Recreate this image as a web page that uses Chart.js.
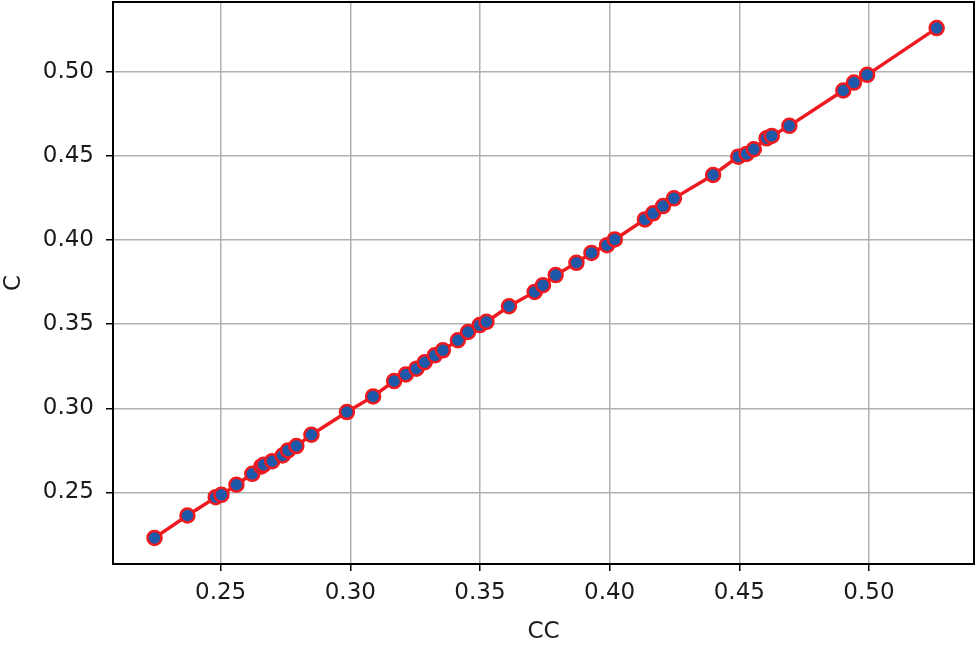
<!DOCTYPE html>
<html>
<head>
<meta charset="utf-8">
<script src="https://cdn.jsdelivr.net/npm/chart.js@4/dist/chart.umd.min.js"></script>
<style>
    html, body { margin: 0; padding: 0; background: #fff; }
    #wrap { width: 980px; height: 648px; }
</style>
</head>
<body>
<div id="wrap"><canvas id="ccChart" width="980" height="648"></canvas></div>
<script>
// values
const ccValues = [0.2245, 0.2372, 0.2481, 0.2503, 0.2561, 0.2622, 0.2657, 0.2666, 0.2699, 0.2739,
    0.2760, 0.2792, 0.2850, 0.2987, 0.3088, 0.3169, 0.3214, 0.3255, 0.3287, 0.3326,
    0.3357, 0.3415, 0.3454, 0.3499, 0.3525, 0.3612, 0.3711, 0.3743, 0.3792, 0.3872,
    0.3930, 0.3990, 0.4020, 0.4136, 0.4168, 0.4206, 0.4248, 0.4399, 0.4496, 0.4528,
    0.4556, 0.4605, 0.4625, 0.4693, 0.4901, 0.4942, 0.4993, 0.5261];
const cValues = [0.2230, 0.2363, 0.2472, 0.2486, 0.2546, 0.2611, 0.2655, 0.2665, 0.2686, 0.2720,
    0.2750, 0.2776, 0.2843, 0.2978, 0.3071, 0.3162, 0.3201, 0.3236, 0.3274, 0.3315,
    0.3345, 0.3405, 0.3454, 0.3495, 0.3514, 0.3607, 0.3692, 0.3732, 0.3792, 0.3865,
    0.3924, 0.3970, 0.4004, 0.4123, 0.4159, 0.4202, 0.4248, 0.4387, 0.4496, 0.4512,
    0.4540, 0.4605, 0.4619, 0.4679, 0.4889, 0.4936, 0.4982, 0.5260];
const xTicks = [0.25, 0.30, 0.35, 0.40, 0.45, 0.50];
const yTicks = [0.25, 0.30, 0.35, 0.40, 0.45, 0.50];

const points = ccValues.map((x, i) => ({ x: x, y: cValues[i] }));

// black box round the plot area
const frame = {
    id: 'frame',
    beforeDatasetsDraw(chart) {
        const a = chart.chartArea;
        const ctx = chart.ctx;
        ctx.save();
        ctx.strokeStyle = '#000';
        ctx.lineWidth = 2;
        ctx.strokeRect(a.left, a.top, a.right - a.left, a.bottom - a.top);
        ctx.restore();
    }
};

const tickFont = { family: 'DejaVu Sans', size: 23 };

new Chart(document.getElementById('ccChart').getContext('2d'), {
    type: 'scatter',
    data: {
        datasets: [{
            data: points,
            showLine: true,
            borderColor: '#ef1a1f',
            borderWidth: 3.5,
            pointBackgroundColor: '#1e58a8',
            pointBorderColor: '#ef1a1f',
            pointBorderWidth: 2.5,
            pointRadius: 7,
            tension: 0,
            clip: false
        }]
    },
    options: {
        responsive: false,
        animation: false,
        layout: { autoPadding: false, padding: { top: 2, right: 6, left: 0, bottom: 0 } },
        plugins: { legend: { display: false }, tooltip: { enabled: false } },
        scales: {
            x: {
                type: 'linear',
                min: 0.2085,
                max: 0.5405,
                afterFit: scale => { scale.height = 84; scale.paddingLeft = 0; scale.paddingRight = 0; },
                afterBuildTicks: scale => { scale.ticks = xTicks.map(v => ({ value: v })); },
                ticks: {
                    font: tickFont,
                    color: '#1a1a1a',
                    padding: 8,
                    maxRotation: 0,
                    callback: v => v.toFixed(2)
                },
                grid: { color: '#b0b0b0', lineWidth: 1.5, tickColor: '#000', tickLength: 7 },
                border: { display: false },
                title: { display: true, text: 'CC', font: { family: 'DejaVu Sans', size: 23 }, color: '#1a1a1a', padding: { top: 0, bottom: 2 } }
            },
            y: {
                type: 'linear',
                min: 0.2075,
                max: 0.5415,
                afterFit: scale => { scale.width = 113; scale.paddingTop = 0; scale.paddingBottom = 0; },
                afterBuildTicks: scale => { scale.ticks = yTicks.map(v => ({ value: v })); },
                ticks: {
                    font: tickFont,
                    color: '#1a1a1a',
                    padding: 12,
                    callback: v => v.toFixed(2)
                },
                grid: { color: '#b0b0b0', lineWidth: 1.5, tickColor: '#000', tickLength: 7 },
                border: { display: false },
                title: { display: true, text: 'C', font: { family: 'DejaVu Sans', size: 23 }, color: '#1a1a1a', padding: { top: 0, bottom: 0 } }
            }
        }
    },
    plugins: [frame]
});
</script>
</body>
</html>
